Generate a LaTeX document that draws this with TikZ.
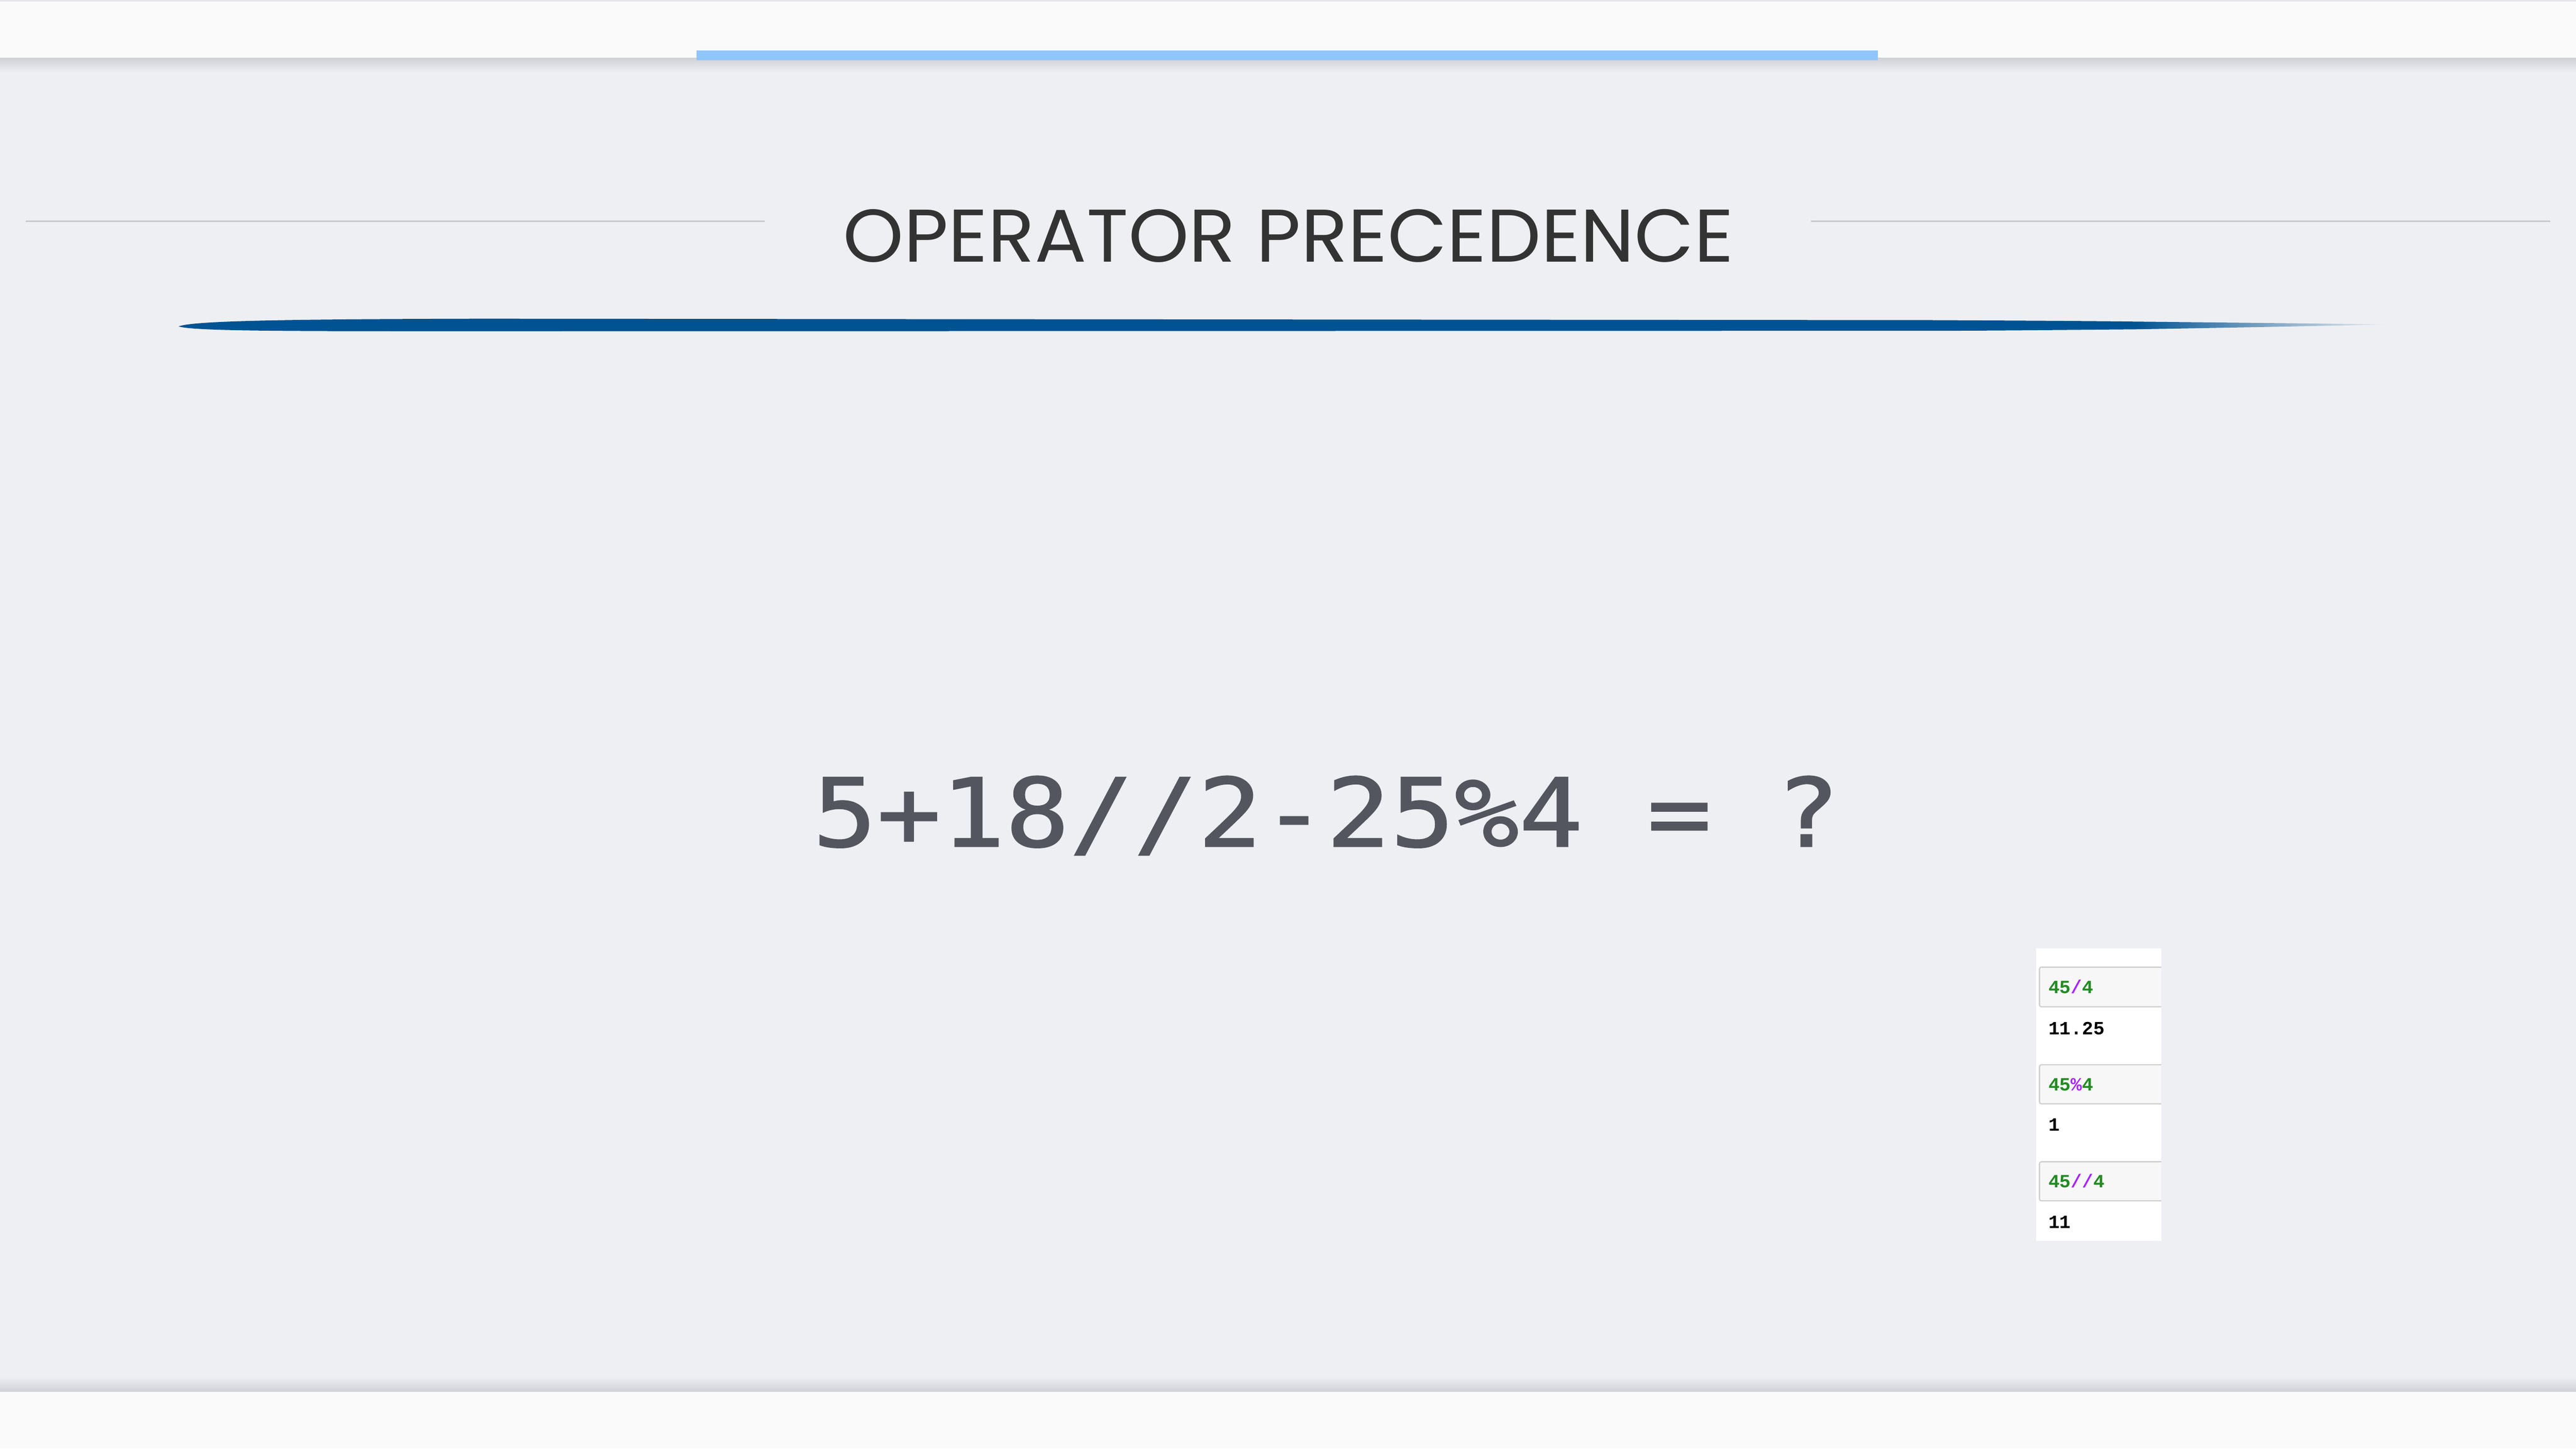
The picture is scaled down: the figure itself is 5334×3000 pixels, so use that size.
\documentclass[tikz,border=0pt]{standalone}
\usepackage{fontspec}
\usepackage{graphicx}
\newfontfamily\titlefont{Poppins}
\newfontfamily\eqfont[FakeBold=1.2]{DejaVu Sans Mono}
\newfontfamily\codefont{Liberation Mono}
\definecolor{bg}{RGB}{238,239,243}
\definecolor{barc}{RGB}{250,250,250}
\definecolor{topline}{RGB}{228,228,234}
\definecolor{topblue}{RGB}{144,197,250}
\definecolor{rulec}{RGB}{199,199,204}
\definecolor{brush}{RGB}{0,83,146}
\definecolor{titlec}{RGB}{51,51,51}
\definecolor{eqc}{RGB}{83,86,95}
\definecolor{numg}{RGB}{34,139,34}
\definecolor{opp}{RGB}{170,34,255}
\definecolor{cellbg}{RGB}{247,247,247}
\definecolor{cellbd}{RGB}{207,207,207}
\definecolor{shadowc}{RGB}{208,209,214}
\tikzset{
  cellbox/.style={fill=cellbg, draw=cellbd, line width=0.025cm, rounded corners=0.04cm},
  codetext/.style={anchor=base west, inner sep=0, font=\fontsize{11}{13}\codefont\bfseries},
  titlerule/.style={rulec, line width=0.03cm}
}
\begin{document}
\begin{tikzpicture}[x=0.01cm,y=-0.01cm]
\useasboundingbox (0,0) rectangle (5334,3000);
\fill[bg] (0,0) rectangle (5334,3000);
% top bar
\shade[top color=shadowc, bottom color=bg] (0,120) rectangle (5334,150);
\fill[barc] (0,0) rectangle (5334,120);
\fill[topline] (0,0) rectangle (5334,3);
\fill[topblue] (1442,105) rectangle (3888,125);
% bottom bar
\shade[top color=bg, bottom color=shadowc] (0,2852) rectangle (5334,2882);
\fill[barc] (0,2882) rectangle (5334,3000);
% title
\node[anchor=base, inner sep=0, text=titlec] (title) at (2668,542)
  {\resizebox{18.42cm}{1.09cm}{\titlefont OPERATOR PRECEDENCE}};
\coordinate (rl1) at (53,458);
\coordinate (rl2) at (1583,458);
\coordinate (rr1) at (3750,458);
\coordinate (rr2) at (5281,458);
\draw[titlerule] (rl1) -- (rl2);
\draw[titlerule] (rr1) -- (rr2);
% brush stroke
\fill[brush] (370,676) .. controls (400,664) and (600,661) .. (1000,660)
  -- (4000,663) .. controls (4200,664) and (4350,665) .. (4420,666)
  -- (4420,682) .. controls (4200,684) and (4100,685) .. (4000,685)
  -- (1000,686) .. controls (600,686) and (400,686) .. (370,676) -- cycle;
\shade[left color=brush, right color=bg] (4420,666) .. controls (4600,668) and (4800,670) .. (4950,672)
  .. controls (4800,675) and (4600,679) .. (4420,682) -- cycle;
% equation
\node[anchor=base west, inner sep=0, text=eqc] (eq) at (1682,1753)
  {\scalebox{1}[0.89]{\fontsize{62.8}{70}\eqfont 5+18//2-25\%4 = ?}};
% code snippet
\fill[white] (4216,1964) rectangle (4475,2570);
\begin{scope}
\clip (4216,1964) rectangle (4475,2570);
\path[cellbox] (4223,2003) rectangle (4520,2085);
\path[cellbox] (4223,2205) rectangle (4520,2286);
\path[cellbox] (4223,2406) rectangle (4520,2487);
\end{scope}
\node[codetext] (in1) at (4241,2057) {\textcolor{numg}{45}\textcolor{opp}{/}\textcolor{numg}{4}};
\node[codetext] (out1) at (4241,2143) {11.25};
\node[codetext] (in2) at (4241,2259) {\textcolor{numg}{45}\textcolor{opp}{\%}\textcolor{numg}{4}};
\node[codetext] (out2) at (4241,2342) {1};
\node[codetext] (in3) at (4241,2460) {\textcolor{numg}{45}\textcolor{opp}{//}\textcolor{numg}{4}};
\node[codetext] (out3) at (4241,2544) {11};
\end{tikzpicture}
\end{document}
